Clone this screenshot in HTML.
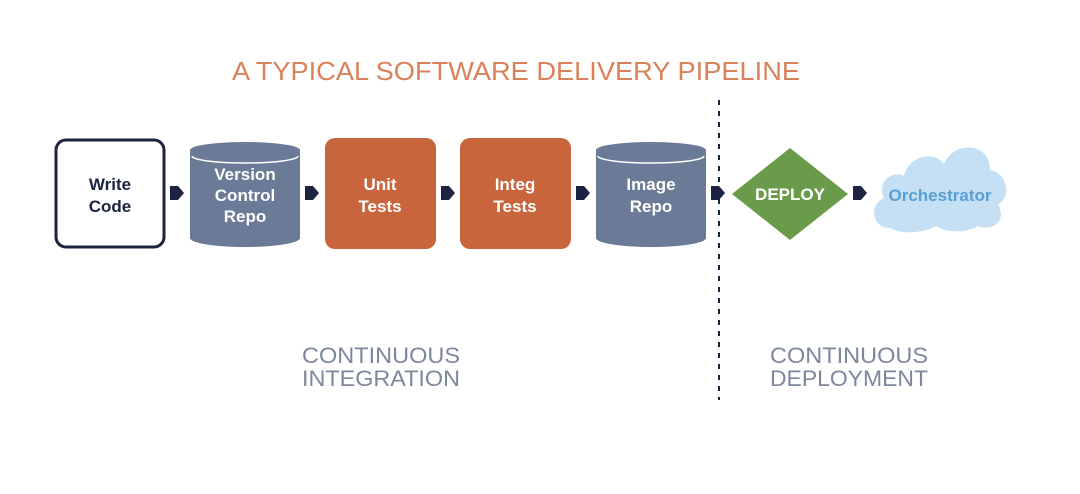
<!DOCTYPE html>
<html><head><meta charset="utf-8"><style>
html,body{margin:0;padding:0;background:#fff;}
svg{display:block;font-family:"Liberation Sans",sans-serif;}
</style></head><body>
<svg width="1080" height="494" viewBox="0 0 1080 494" xmlns="http://www.w3.org/2000/svg">
<rect width="1080" height="494" fill="#fff"/>
<text x="232" y="80" font-size="26" fill="#d9825a" textLength="568" lengthAdjust="spacingAndGlyphs">A TYPICAL SOFTWARE DELIVERY PIPELINE</text>

<line x1="719" y1="100" x2="719" y2="400" stroke="#1c2340" stroke-width="2" stroke-dasharray="5,6"/>

<rect x="56" y="140" width="108" height="107" rx="10" fill="#fff" stroke="#1c2340" stroke-width="3"/>
<g font-weight="bold" font-size="17" text-anchor="middle" fill="#1c2340">
<text x="110" y="190">Write</text><text x="110" y="212">Code</text></g>

<g fill="#6b7a96">
<path d="M190 150 L190 238 A55 9 0 0 0 300 238 L300 150 Z"/>
<ellipse cx="245" cy="150" rx="55" ry="8"/>
<path d="M596 150 L596 238 A55 9 0 0 0 706 238 L706 150 Z"/>
<ellipse cx="651" cy="150" rx="55" ry="8"/>
</g>
<path d="M192 156 A53 7 0 0 0 298 156" fill="none" stroke="#fff" stroke-width="1.5"/>
<path d="M598 156 A53 7 0 0 0 704 156" fill="none" stroke="#fff" stroke-width="1.5"/>

<rect x="325" y="138" width="111" height="111" rx="10" fill="#c8653c"/>
<rect x="460" y="138" width="111" height="111" rx="10" fill="#c8653c"/>

<polygon points="790,148 848,194 790,240 732,194" fill="#6a9b4a"/>

<path fill="#c5e0f4" d="M890 228 C872 228 868 205 884 198 C876 182 892 170 904 176 C908 156 934 150 944 164 C954 140 990 142 990 170 C1010 174 1010 200 998 204 C1008 222 990 232 978 226 C966 234 944 232 936 226 C922 234 900 234 890 228 Z"/>

<g fill="#1c2340">
<polygon points="170,186 178,186 184,193 178,200 170,200"/>
<polygon points="305,186 313,186 319,193 313,200 305,200"/>
<polygon points="441,186 449,186 455,193 449,200 441,200"/>
<polygon points="576,186 584,186 590,193 584,200 576,200"/>
<polygon points="711,186 719,186 725,193 719,200 711,200"/>
<polygon points="853,186 861,186 867,193 861,200 853,200"/>
</g>

<g font-weight="bold" font-size="17" text-anchor="middle" fill="#fff">
<text x="245" y="180">Version</text><text x="245" y="201">Control</text><text x="245" y="222">Repo</text>
<text x="380" y="190">Unit</text><text x="380" y="212">Tests</text>
<text x="515" y="190">Integ</text><text x="515" y="212">Tests</text>
<text x="651" y="190">Image</text><text x="651" y="212">Repo</text>
<text x="790" y="200">DEPLOY</text>
</g>
<text x="940" y="201" font-weight="bold" font-size="17" text-anchor="middle" fill="#5a9fd4">Orchestrator</text>

<g font-size="22" fill="#7d879e" text-anchor="middle">
<text x="381" y="363" textLength="158" lengthAdjust="spacingAndGlyphs">CONTINUOUS</text>
<text x="381" y="386" textLength="158" lengthAdjust="spacingAndGlyphs">INTEGRATION</text>
<text x="849" y="363" textLength="158" lengthAdjust="spacingAndGlyphs">CONTINUOUS</text>
<text x="849" y="386" textLength="158" lengthAdjust="spacingAndGlyphs">DEPLOYMENT</text>
</g>
</svg>
</body></html>
